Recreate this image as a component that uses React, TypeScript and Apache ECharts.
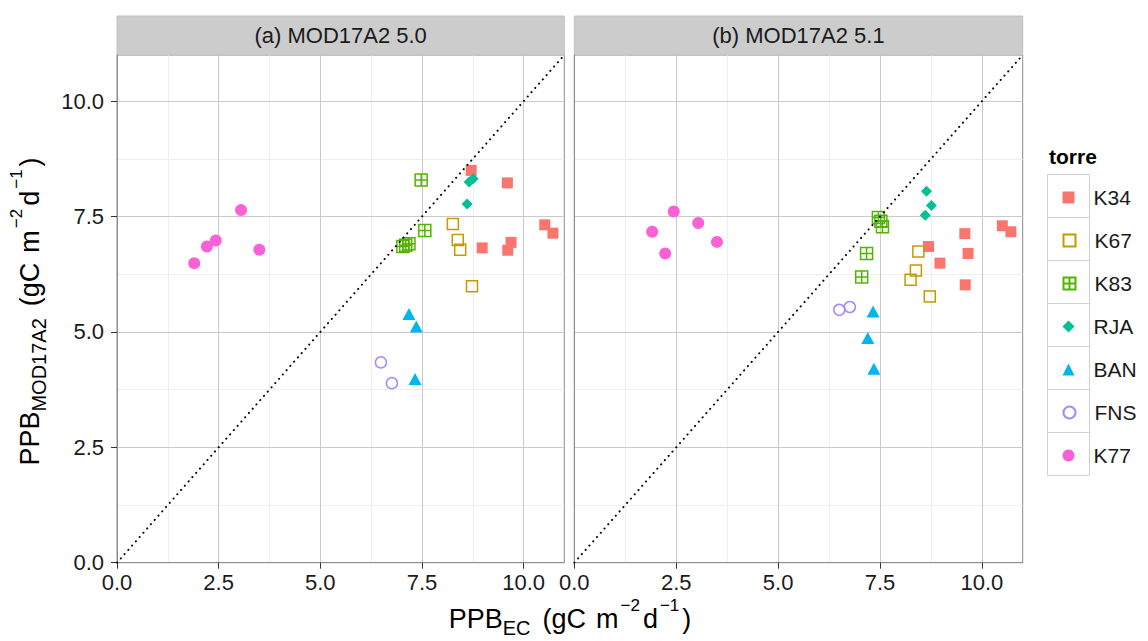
import React, { useEffect, useRef } from "react";
import * as echarts from "echarts";

// ---------- data ----------
const STATIONS = ["K34", "K67", "K83", "RJA", "BAN", "FNS", "K77"];
const PANEL_TITLES = ["(a) MOD17A2 5.0", "(b) MOD17A2 5.1"];
const LEGEND_TITLE = "torre";
const MAJOR_BREAKS = [0, 2.5, 5, 7.5, 10];
const MINOR_BREAKS = [1.25, 3.75, 6.25, 8.75];
const AXIS_MIN = 0;
const AXIS_MAX = 11;
const IDENTITY: [number, number][] = [
  [0, 0],
  [11, 11],
];

// panel (a) MOD17A2 5.0  [PPB_EC, PPB_MOD17A2]
const K34_A: [number, number][] = [[8.71, 8.5], [9.6, 8.23], [10.52, 7.32], [10.72, 7.14], [8.98, 6.82], [9.69, 6.94], [9.61, 6.77]];
const K67_A: [number, number][] = [[8.26, 7.34], [8.38, 6.99], [8.44, 6.78], [8.73, 5.99]];
const K83_A: [number, number][] = [[7.48, 8.29], [7.57, 7.2], [7.18, 6.91], [7.1, 6.88], [7.03, 6.85]];
const RJA_A: [number, number][] = [[8.66, 8.25], [8.76, 8.32], [8.61, 7.77]];
const BAN_A: [number, number][] = [[7.18, 5.39], [7.36, 5.12], [7.33, 3.98]];
const FNS_A: [number, number][] = [[6.49, 4.34], [6.76, 3.89]];
const K77_A: [number, number][] = [[3.05, 7.64], [2.43, 6.98], [2.21, 6.85], [3.5, 6.78], [1.9, 6.49]];

// panel (b) MOD17A2 5.1
const K34_B: [number, number][] = [[10.5, 7.3], [10.71, 7.17], [9.58, 7.13], [9.66, 6.7], [8.69, 6.85], [8.97, 6.49], [9.59, 6.02]];
const K67_B: [number, number][] = [[8.44, 6.74], [8.38, 6.33], [8.25, 6.13], [8.72, 5.77]];
const K83_B: [number, number][] = [[7.46, 7.48], [7.52, 7.4], [7.56, 7.28], [7.17, 6.7], [7.05, 6.19]];
const RJA_B: [number, number][] = [[8.64, 8.05], [8.76, 7.74], [8.61, 7.53]];
const BAN_B: [number, number][] = [[7.33, 5.44], [7.2, 4.87], [7.35, 4.2]];
const FNS_B: [number, number][] = [[6.5, 5.48], [6.76, 5.54]];
const K77_B: [number, number][] = [[2.44, 7.61], [3.04, 7.36], [1.91, 7.17], [3.5, 6.95], [2.23, 6.7]];

const PANELS = [
  [K34_A, K67_A, K83_A, RJA_A, BAN_A, FNS_A, K77_A],
  [K34_B, K67_B, K83_B, RJA_B, BAN_B, FNS_B, K77_B],
];

// ---------- styles ----------
const FONT = "'Liberation Sans', Arial, Helvetica, sans-serif";
const COLORS: Record<string, string> = {
  K34: "#F8766D",
  K67: "#C49A00",
  K83: "#53B400",
  RJA: "#00C094",
  BAN: "#00B6EB",
  FNS: "#A58AFF",
  K77: "#FB61D7",
};
const SYMBOLS: Record<string, string> = {
  K34: "rect",
  K67: "rect",
  K83: "path://M0,0L10,0L10,10L0,10ZM5,0L5,10M0,5L10,5",
  RJA: "diamond",
  BAN: "triangle",
  FNS: "circle",
  K77: "circle",
};
const FILLED: Record<string, boolean> = {
  K34: true,
  K67: false,
  K83: false,
  RJA: true,
  BAN: true,
  FNS: false,
  K77: true,
};
const SIZES: Record<string, number | number[]> = {
  K34: 11,
  K67: 11,
  K83: 12,
  RJA: 11,
  BAN: [13, 12],
  FNS: 11,
  K77: 12,
};

const BORDER = "#8c8c8c";
const MAJOR_GRID = "#cacaca";
const MINOR_GRID = "#eeeeee";
const TEXT = "#1a1a1a";
const TICK_FONT = 22;

const GRIDS = [
  { left: 117, top: 55, width: 447.3, height: 507.7 },
  { left: 574.3, top: 55, width: 448.4, height: 507.7 },
];
const LEGEND_BOX = { left: 1047.5, top: 174.5, size: 43, width: 42 };

const fmt = (v: number) => (v > 10.5 ? "" : v.toFixed(1));

function mainX(gi: number) {
  return {
    type: "value",
    gridIndex: gi,
    min: AXIS_MIN,
    max: AXIS_MAX,
    interval: 2.5,
    z: 2,
    axisLine: { show: true, lineStyle: { color: BORDER, width: 1 } },
    axisTick: { show: true, length: 6, lineStyle: { color: "#333" }, customValues: MAJOR_BREAKS },
    axisLabel: { customValues: MAJOR_BREAKS, formatter: fmt, fontSize: TICK_FONT, color: TEXT, margin: 9, fontFamily: FONT },
    splitLine: { show: true, lineStyle: { color: MAJOR_GRID, width: 1 } },
  };
}
function minorX(gi: number) {
  return {
    type: "value",
    gridIndex: gi,
    min: AXIS_MIN,
    max: AXIS_MAX,
    interval: 2.5,
    z: 0,
    axisLine: { show: false },
    axisTick: { show: false, customValues: MINOR_BREAKS },
    axisLabel: { show: false, customValues: MINOR_BREAKS },
    splitLine: { show: true, lineStyle: { color: MINOR_GRID, width: 1 } },
  };
}
function mainY(gi: number) {
  return {
    type: "value",
    gridIndex: gi,
    min: AXIS_MIN,
    max: AXIS_MAX,
    interval: 2.5,
    z: 2,
    axisLine: { show: true, lineStyle: { color: BORDER, width: 1 } },
    axisTick: { show: gi === 0, length: 6, lineStyle: { color: "#333" }, customValues: MAJOR_BREAKS },
    axisLabel: { show: gi === 0, customValues: MAJOR_BREAKS, formatter: fmt, fontSize: TICK_FONT, color: TEXT, margin: 13, fontFamily: FONT },
    splitLine: { show: true, lineStyle: { color: MAJOR_GRID, width: 1 } },
  };
}
function minorY(gi: number) {
  return {
    type: "value",
    gridIndex: gi,
    min: AXIS_MIN,
    max: AXIS_MAX,
    interval: 2.5,
    z: 0,
    axisLine: { show: false },
    axisTick: { show: false, customValues: MINOR_BREAKS },
    axisLabel: { show: false, customValues: MINOR_BREAKS },
    splitLine: { show: true, lineStyle: { color: MINOR_GRID, width: 1 } },
  };
}

const TITLE_RICH = {
  n: { fontSize: 27, fontFamily: FONT, fill: "#000" },
  sub: { fontSize: 20, fontFamily: FONT, fill: "#000", padding: [18, 0, 0, 0] },
  sup: { fontSize: 17, fontFamily: FONT, fill: "#000", padding: [0, 3, 28, 2] },
  s1: { fontSize: 27, fontFamily: FONT, width: 12 },
  s2: { fontSize: 27, fontFamily: FONT, width: 10 },
};
const UNITS = "{s1| }{n|(gC}{s2| }{n|m}{sup|\u22122}{n|d}{sup|\u22121}{n|)}";

export default function App() {
  const ref = useRef<HTMLDivElement>(null);

  useEffect(() => {
    if (!ref.current) return;
    const chart = echarts.init(ref.current, undefined, { renderer: "svg" });

    const series: any[] = [];
    PANELS.forEach((panel, p) => {
      STATIONS.forEach((name, i) => {
        const color = COLORS[name];
        series.push({
          type: "scatter",
          name,
          xAxisIndex: p,
          yAxisIndex: p,
          data: panel[i],
          symbol: SYMBOLS[name],
          symbolSize: SIZES[name],
          z: 3,
          emphasis: { disabled: true },
          itemStyle: FILLED[name]
            ? { color, opacity: 1 }
            : { color: "rgba(0,0,0,0)", borderColor: color, borderWidth: 1.5, opacity: 1 },
        });
      });
      series.push({
        type: "line",
        name: "1:1",
        xAxisIndex: p,
        yAxisIndex: p,
        data: IDENTITY,
        symbol: "none",
        showSymbol: false,
        silent: true,
        z: 4,
        lineStyle: { color: "#000", width: 2, type: [0.1, 5.6], cap: "round" },
      });
    });

    const graphics: any[] = [];
    GRIDS.forEach((g, p) => {
      graphics.push({
        type: "rect",
        shape: { x: g.left, y: 16, width: g.width, height: 39 },
        style: { fill: "#cccccc", stroke: "#c0c0c0", lineWidth: 1 },
        z: 1,
      });
      graphics.push({
        type: "text",
        x: g.left + g.width / 2,
        y: 35.5,
        style: {
          text: PANEL_TITLES[p],
          fontSize: 22,
          fontFamily: FONT,
          fill: TEXT,
          align: "center",
          verticalAlign: "middle",
        },
        z: 2,
      });
    });
    // axis titles
    graphics.push({
      type: "text",
      x: 570,
      y: 619,
      style: {
        text: "{n|PPB}{sub|EC}" + UNITS,
        rich: TITLE_RICH,
        fontFamily: FONT,
        fontSize: 27,
        align: "center",
        verticalAlign: "middle",
        fill: "#000",
      },
      z: 2,
    });
    graphics.push({
      type: "text",
      x: 30,
      y: 311.5,
      rotation: Math.PI / 2,
      style: {
        text: "{n|PPB}{sub|MOD17A2}" + UNITS,
        rich: TITLE_RICH,
        fontFamily: FONT,
        fontSize: 27,
        align: "center",
        verticalAlign: "middle",
        fill: "#000",
      },
      z: 2,
    });
    // legend title and key boxes
    graphics.push({
      type: "text",
      x: 1049,
      y: 156,
      style: {
        text: LEGEND_TITLE,
        fontSize: 21,
        fontWeight: "bold",
        fontFamily: FONT,
        fill: "#000",
        align: "left",
        verticalAlign: "middle",
      },
      z: 2,
    });
    STATIONS.forEach((_, i) => {
      graphics.push({
        type: "rect",
        shape: { x: LEGEND_BOX.left, y: LEGEND_BOX.top + LEGEND_BOX.size * i, width: LEGEND_BOX.width, height: LEGEND_BOX.size },
        style: { fill: "#ffffff", stroke: "#d0d0d0", lineWidth: 1 },
        z: 0,
      });
    });

    const legends = STATIONS.map((name, i) => ({
      data: [name],
      orient: "vertical",
      left: LEGEND_BOX.left + LEGEND_BOX.width / 2 - 6,
      top: LEGEND_BOX.top + LEGEND_BOX.size * i + LEGEND_BOX.size / 2 - 9,
      padding: 0,
      itemWidth: 12,
      itemHeight: 12,
      selectedMode: false,
      textStyle: {
        fontSize: 21,
        color: TEXT,
        fontFamily: FONT,
        padding: [0, 0, 0, 14],
      },
      z: 5,
    }));

    const option: any = {
      animation: false,
      backgroundColor: "#ffffff",
      textStyle: { fontFamily: FONT },
      grid: GRIDS.map((g) => ({
        ...g,
        show: true,
        borderColor: BORDER,
        borderWidth: 1,
        backgroundColor: "#ffffff",
        containLabel: false,
      })),
      xAxis: [mainX(0), mainX(1), minorX(0), minorX(1)],
      yAxis: [mainY(0), mainY(1), minorY(0), minorY(1)],
      legend: legends,
      series,
      graphic: { elements: graphics },
    };

    chart.setOption(option);
    return () => {
      chart.dispose();
    };
  }, []);

  return (
    <div
      ref={ref}
      style={{ position: "fixed", left: 0, top: 0, width: 1148, height: 641, background: "#fff" }}
    />
  );
}
